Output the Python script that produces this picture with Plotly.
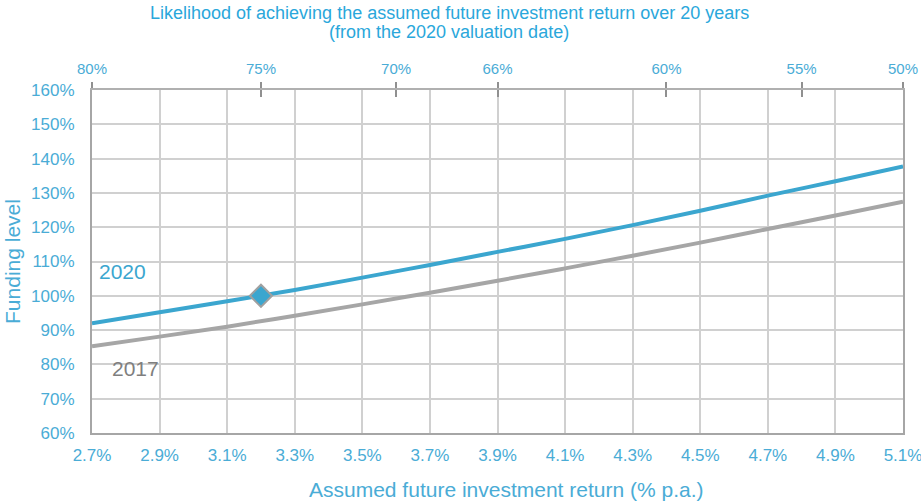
import plotly.graph_objects as go

returns = [2.7, 2.9, 3.1, 3.3, 3.5, 3.7, 3.9, 4.1, 4.3, 4.5, 4.7, 4.9, 5.1]
funding_2020 = [92.0, 95.2, 98.4, 101.7, 105.3, 109.0, 112.8, 116.6, 120.6, 124.8, 129.2, 133.4, 137.7]
funding_2017 = [85.3, 88.1, 91.0, 94.2, 97.5, 100.9, 104.4, 108.0, 111.7, 115.5, 119.5, 123.4, 127.4]
current_point = (3.2, 100.0)

x_ticks = [2.7, 2.9, 3.1, 3.3, 3.5, 3.7, 3.9, 4.1, 4.3, 4.5, 4.7, 4.9, 5.1]
x_ticktext = ["2.7%", "2.9%", "3.1%", "3.3%", "3.5%", "3.7%", "3.9%", "4.1%", "4.3%", "4.5%", "4.7%", "4.9%", "5.1%"]
y_ticks = [60, 70, 80, 90, 100, 110, 120, 130, 140, 150, 160]
y_ticktext = [f"{v}%" for v in y_ticks]
likelihood_pos = [2.7, 3.2, 3.6, 3.9, 4.4, 4.8, 5.1]
likelihood_text = ["80%", "75%", "70%", "66%", "60%", "55%", "50%"]

BLUE = "#3BA6CF"
TEXTBLUE = "#4AACD6"
TITLEBLUE = "#2AA7DB"
GRAY = "#A6A6A6"
FONT = "Liberation Sans, Arial, sans-serif"

fig = go.Figure()
fig.add_trace(go.Scatter(x=returns, y=funding_2017, mode="lines",
                         line=dict(color=GRAY, width=4), line_shape="spline",
                         showlegend=False, hoverinfo="skip"))
fig.add_trace(go.Scatter(x=returns, y=funding_2020, mode="lines",
                         line=dict(color=BLUE, width=4), line_shape="spline",
                         showlegend=False, hoverinfo="skip"))
fig.add_trace(go.Scatter(x=[current_point[0]], y=[current_point[1]], mode="markers",
                         marker=dict(symbol="diamond", size=17, color=BLUE,
                                     line=dict(color="#A0A0A0", width=2)),
                         showlegend=False, hoverinfo="skip"))
# invisible traces to activate top axes
fig.add_trace(go.Scatter(x=[2.7, 5.1], y=[None, None], xaxis="x2", showlegend=False, hoverinfo="skip"))
fig.add_trace(go.Scatter(x=[2.7, 5.1], y=[None, None], xaxis="x3", showlegend=False, hoverinfo="skip"))

rng = [2.7, 5.1]
fig.update_layout(
    width=921, height=501,
    margin=dict(l=92, r=18, t=90, b=68),
    paper_bgcolor="white", plot_bgcolor="white",
    font=dict(family=FONT, color=TEXTBLUE),
    xaxis=dict(range=rng, tickvals=x_ticks, ticktext=x_ticktext, automargin=False,
               showgrid=True, gridcolor="#D0D0D0", gridwidth=1.5,
               showline=True, linecolor="#A6A6A6", linewidth=2, mirror=False,
               tickfont=dict(size=17, color=TEXTBLUE), ticks="", ticklabelstandoff=6,
               ticklabeloverflow="allow", zeroline=False),
    xaxis2=dict(range=rng, overlaying="x", side="top", tickvals=likelihood_pos,
                ticktext=likelihood_text, showgrid=False, showline=True, automargin=False,
                linecolor="#B0B0B0", linewidth=1.5, ticks="outside", ticklen=6,
                tickcolor="#909090", tickwidth=1.5, ticklabelstandoff=2,
                ticklabeloverflow="allow",
                tickfont=dict(size=15, color=TEXTBLUE), zeroline=False),
    xaxis3=dict(range=rng, overlaying="x", side="top", tickvals=likelihood_pos,
                showticklabels=False, showgrid=False, showline=False, automargin=False,
                ticks="inside", ticklen=7, tickcolor="#909090", tickwidth=1.5,
                zeroline=False),
    yaxis=dict(range=[60, 160], tickvals=y_ticks, ticktext=y_ticktext, automargin=False,
               showgrid=True, gridcolor="#D0D0D0", gridwidth=1.5,
               showline=True, linecolor="#A6A6A6", linewidth=2, mirror=True,
               tickfont=dict(size=17, color=TEXTBLUE), ticks="", ticklabelstandoff=12,
               zeroline=False,
               title=dict(text="Funding level", font=dict(size=21, color=TEXTBLUE), standoff=5)),
    annotations=[
        dict(text="Likelihood of achieving the assumed future investment return over 20 years",
             xref="paper", yref="paper", x=(449 - 92) / 811, y=1.0, yshift=77, yanchor="middle",
             showarrow=False, font=dict(size=18, color=TITLEBLUE)),
        dict(text="(from the 2020 valuation date)",
             xref="paper", yref="paper", x=(449 - 92) / 811, y=1.0, yshift=58, yanchor="middle",
             showarrow=False, font=dict(size=18, color=TITLEBLUE)),
        dict(text="Assumed future investment return (% p.a.)",
             xref="paper", yref="paper", x=(506.5 - 92) / 811, y=0.0, yshift=-56, yanchor="middle",
             showarrow=False, font=dict(size=21, color=TEXTBLUE)),
        dict(text="2020", x=2.79, y=107.2, xref="x", yref="y", showarrow=False,
             font=dict(size=21, color=BLUE)),
        dict(text="2017", x=2.83, y=78.8, xref="x", yref="y", showarrow=False,
             font=dict(size=21, color="#7F7F7F")),
    ],
)

fig.write_html("out.html", post_script="document.body.style.margin='0';",
               config={"displayModeBar": False})
